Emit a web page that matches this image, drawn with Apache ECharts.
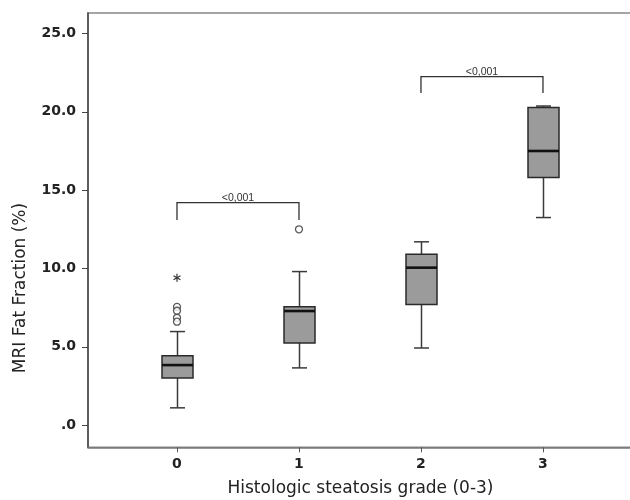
<!DOCTYPE html>
<html>
<head>
<meta charset="utf-8">
<script src="https://cdn.jsdelivr.net/npm/echarts@6/dist/echarts.min.js"></script>
<style>
html,body{margin:0;padding:0;background:#fff;}
#chart{width:630px;height:500px;}
</style>
</head>
<body>
<div id="chart"></div>
<script>
// ---- data ----
const categories = [0, 1, 2, 3];
const xTickLabels = ['0', '1', '2', '3'];
const yTicks = [0, 5, 10, 15, 20, 25];
// box statistics per grade
const lowWhisker = [1.1, 3.65, 4.92, 13.25];
const q1 = [3.0, 5.24, 7.7, 15.8];
const median = [3.83, 7.28, 10.05, 17.5];
const q3 = [4.42, 7.55, 10.9, 20.27];
const highWhisker = [5.97, 9.8, 11.7, 20.37];
// outliers (circles)
const outlierGrade = [0, 0, 0, 0, 1];
const outlierValue = [7.55, 7.3, 6.85, 6.6, 12.5];
// extreme values (stars)
const extremeGrade = [0];
const extremeValue = [9.4];
// significance brackets
const bracketFrom = [0, 2];
const bracketTo = [1, 3];
const bracketTop = [14.2, 22.25];
const bracketLeg = [13.1, 21.2];
const bracketLabel = ['<0,001', '<0,001'];

const xAxisName = 'Histologic steatosis grade (0-3)';
const yAxisName = 'MRI Fat Fraction (%)';

// ---- build ----
const boxData = categories.map((c, i) => [c, lowWhisker[i], q1[i], median[i], q3[i], highWhisker[i]]);
const outlierData = outlierGrade.map((g, i) => [g, outlierValue[i]]);
const extremeData = extremeGrade.map((g, i) => [g, extremeValue[i]]);
const bracketData = bracketFrom.map((f, i) => [f, bracketTo[i], bracketTop[i], bracketLeg[i]]);

const FONT = '"DejaVu Sans", sans-serif';

function renderBox(params, api) {
  const x = api.value(0);
  const lo = api.coord([x, api.value(1)]);
  const b1 = api.coord([x, api.value(2)]);
  const md = api.coord([x, api.value(3)]);
  const b3 = api.coord([x, api.value(4)]);
  const hi = api.coord([x, api.value(5)]);
  const cx = Math.round(lo[0]) + 0.5;
  const hw = 15.5, cw = 7.5;
  const wStyle = {stroke: '#3a3a3a', lineWidth: 1.5};
  return {
    type: 'group',
    children: [
      {type: 'line', shape: {x1: cx, y1: hi[1], x2: cx, y2: b3[1]}, style: wStyle},
      {type: 'line', shape: {x1: cx, y1: b1[1], x2: cx, y2: lo[1]}, style: wStyle},
      {type: 'line', shape: {x1: cx - cw, y1: hi[1], x2: cx + cw, y2: hi[1]}, style: wStyle},
      {type: 'line', shape: {x1: cx - cw, y1: lo[1], x2: cx + cw, y2: lo[1]}, style: wStyle},
      {type: 'rect', shape: {x: cx - hw, y: b3[1], width: hw * 2, height: b1[1] - b3[1]},
        style: {fill: '#9b9b9b', stroke: '#2a2a2a', lineWidth: 1.5}},
      {type: 'line', shape: {x1: cx - hw, y1: md[1], x2: cx + hw, y2: md[1]},
        style: {stroke: '#111', lineWidth: 2.6}}
    ]
  };
}

function renderStar(params, api) {
  const p = api.coord([api.value(0), api.value(1)]);
  const r = 4;
  const children = [];
  for (let k = 0; k < 3; k++) {
    const a = Math.PI / 2 + k * Math.PI / 3;
    children.push({type: 'line',
      shape: {x1: p[0] - r * Math.cos(a), y1: p[1] - r * Math.sin(a), x2: p[0] + r * Math.cos(a), y2: p[1] + r * Math.sin(a)},
      style: {stroke: '#333', lineWidth: 1.2}});
  }
  return {type: 'group', children};
}

function renderBracket(params, api) {
  const a = api.coord([api.value(0), api.value(2)]);
  const b = api.coord([api.value(1), api.value(2)]);
  const aL = api.coord([api.value(0), api.value(3)]);
  const bL = api.coord([api.value(1), api.value(3)]);
  return {
    type: 'group',
    children: [
      {type: 'polyline', shape: {points: [[aL[0], aL[1]], [a[0], a[1]], [b[0], b[1]], [bL[0], bL[1]]]},
        style: {stroke: '#333', lineWidth: 1.3, fill: null}},
      {type: 'text', style: {text: bracketLabel[params.dataIndex], x: (a[0] + b[0]) / 2, y: a[1] + 1,
        textAlign: 'center', textVerticalAlign: 'bottom', fill: '#333',
        font: '10.5px "Liberation Sans", Arial, sans-serif'}}
    ]
  };
}

const chart = echarts.init(document.getElementById('chart'), null, {renderer: 'canvas'});
chart.setOption({
  backgroundColor: '#fff',
  animation: false,
  grid: {left: 88, top: 13, width: 545, height: 434.3, show: true, borderColor: '#888', borderWidth: 1.5,
    backgroundColor: 'transparent', containLabel: false, outerBoundsMode: 'none'},
  xAxis: {
    type: 'value', min: -0.7295, max: 3.738,
    splitLine: {show: false},
    axisLine: {onZero: false, lineStyle: {color: '#777', width: 1.5}},
    axisTick: {customValues: categories, length: 5, lineStyle: {color: '#555'}},
    axisLabel: {customValues: categories, formatter: v => xTickLabels[categories.indexOf(v)],
      color: '#222', fontFamily: FONT, fontWeight: 'bold', fontSize: 14, margin: 10},
    name: xAxisName, nameLocation: 'middle', nameGap: 33,
    nameTextStyle: {color: '#222', fontFamily: FONT, fontSize: 17}
  },
  yAxis: {
    type: 'value', min: -1.42, max: 26.31,
    splitLine: {show: false},
    axisLine: {onZero: false, lineStyle: {color: '#444', width: 1.5}},
    axisTick: {customValues: yTicks, length: 6, lineStyle: {color: '#444'}},
    axisLabel: {customValues: yTicks, formatter: v => v === 0 ? '.0' : v.toFixed(1),
      color: '#222', fontFamily: FONT, fontWeight: 'bold', fontSize: 14, margin: 12}
  },
  graphic: [{
    type: 'text', x: 21, y: 288, rotation: Math.PI / 2,
    style: {text: yAxisName, textAlign: 'center', textVerticalAlign: 'middle', fill: '#222',
      font: '17px "DejaVu Sans", sans-serif'}
  }],
  series: [
    {type: 'custom', renderItem: renderBox, data: boxData, encode: {x: 0, y: [1, 2, 3, 4, 5]}, z: 3},
    {type: 'scatter', data: outlierData, symbol: 'circle', symbolSize: 7,
      itemStyle: {color: '#fff', borderColor: '#333', borderWidth: 1.3}, z: 4},
    {type: 'custom', renderItem: renderStar, data: extremeData, encode: {x: 0, y: 1}, z: 4},
    {type: 'custom', renderItem: renderBracket, data: bracketData, encode: {x: [0, 1], y: [2, 3]}, z: 4}
  ]
});
</script>
</body>
</html>
